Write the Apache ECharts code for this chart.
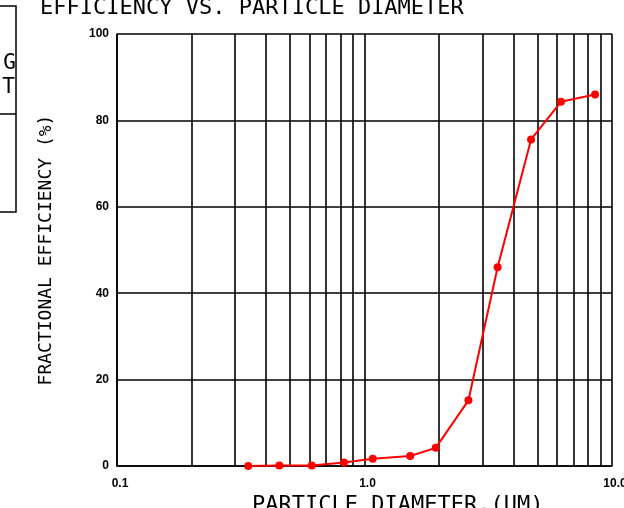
<!DOCTYPE html>
<html>
<head>
<meta charset="utf-8">
<script src="https://cdn.jsdelivr.net/npm/echarts@6/dist/echarts.min.js"></script>
<style>
  html, body { margin: 0; padding: 0; background: #fff; }
  #chart { width: 624px; height: 508px; }
</style>
</head>
<body>
<div id="chart"></div>
<script>
// particle diameter (um) vs fractional efficiency (%)
var diameters = [0.339, 0.453, 0.612, 0.826, 1.08, 1.53, 1.94, 2.63, 3.45, 4.71, 6.22, 8.54];
var efficiency = [0, 0.1, 0.1, 0.8, 1.7, 2.3, 4.2, 15.2, 46.0, 75.6, 84.3, 86.0];
// minor log grid lines
var minorLines = [0.2, 0.3, 0.4, 0.5, 0.6, 0.7, 0.8, 0.9, 2, 3, 4, 5, 6, 7, 8, 9];
var xLabels = { 0.1: '0.1', 1: '1.0', 10: '10.0' };

var mono = '"DejaVu Sans Mono", monospace';
var gridLine = { color: '#000', width: 1.6 };

var chart = echarts.init(document.getElementById('chart'), null, { renderer: 'canvas' });

var points = [];
for (var i = 0; i < diameters.length; i++) {
    points.push([diameters[i], efficiency[i]]);
}

var option = {
    backgroundColor: '#fff',
    animation: false,
    grid: { left: 117, right: 12, top: 34, bottom: 42, outerBoundsMode: 'none', containLabel: false },
    xAxis: {
        type: 'log',
        logBase: 10,
        min: 0.1,
        max: 10,
        axisLine: { show: true, lineStyle: gridLine },
        axisTick: { show: false },
        splitLine: { show: true, lineStyle: gridLine },
        axisLabel: {
            margin: 12,
            padding: [0, 0, 0, 6],
            color: '#000',
            fontFamily: 'Liberation Sans',
            fontWeight: 'bold',
            fontSize: 12,
            formatter: function (v) { return xLabels[v] || ''; }
        }
    },
    yAxis: {
        type: 'value',
        min: 0,
        max: 100,
        interval: 20,
        axisLine: { show: true, lineStyle: gridLine },
        axisTick: { show: false },
        splitLine: { show: true, lineStyle: gridLine },
        axisLabel: {
            margin: 8,
            color: '#000',
            fontFamily: 'Liberation Sans',
            fontWeight: 'bold',
            fontSize: 12
        }
    },
    graphic: [
        { type: 'text', left: 40, top: -3, style: { text: 'EFFICIENCY VS. PARTICLE DIAMETER', font: '22px ' + mono, fill: '#000' } },
        { type: 'text', left: 252, top: 494, style: { text: 'PARTICLE DIAMETER,(UM)', font: '22px ' + mono, fill: '#000' } },
        { type: 'text', x: 46, y: 250, rotation: Math.PI / 2,
          style: { text: 'FRACTIONAL EFFICIENCY (%)', font: '18px ' + mono, fill: '#000', align: 'center', verticalAlign: 'middle' } },
        // box at the left edge
        { type: 'polyline', shape: { points: [[-2, 6], [16, 6], [16, 212], [-2, 212]] }, style: { stroke: '#000', lineWidth: 1.5, fill: null } },
        { type: 'line', shape: { x1: -2, y1: 114, x2: 16, y2: 114 }, style: { stroke: '#000', lineWidth: 1.5 } },
        { type: 'text', x: 16, y: 53, style: { text: 'G', font: '21px ' + mono, fill: '#000', align: 'right' } },
        { type: 'text', x: 15, y: 77, style: { text: 'T', font: '21px ' + mono, fill: '#000', align: 'right' } }
    ],
    series: [
        {
            type: 'line',
            data: [],
            z: 1,
            silent: true,
            markLine: {
                silent: true,
                symbol: ['none', 'none'],
                label: { show: false },
                lineStyle: { color: '#000', width: 1.6, type: 'solid' },
                data: minorLines.map(function (v) { return { xAxis: v }; })
            }
        },
        {
            type: 'line',
            data: points,
            z: 5,
            symbol: 'circle',
            symbolSize: 8,
            lineStyle: { color: '#ff0000', width: 2 },
            itemStyle: { color: '#ff0000' }
        }
    ]
};

chart.setOption(option);
</script>
</body>
</html>
